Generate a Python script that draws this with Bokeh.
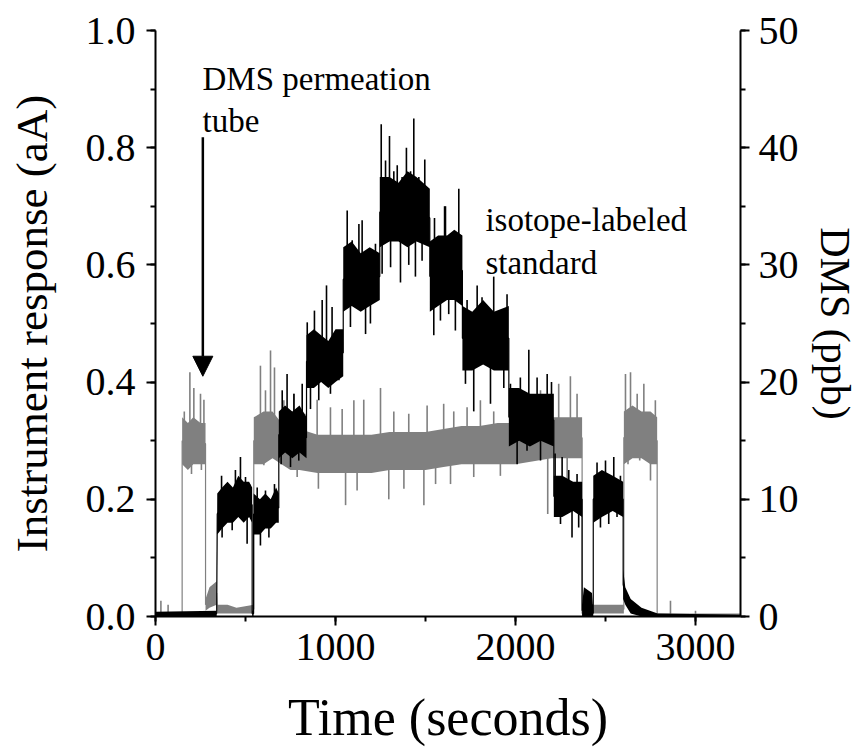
import numpy as np
from bokeh.plotting import figure
from bokeh.models import (Range1d, LinearAxis, SingleIntervalTicker, NumeralTickFormatter,
                          Arrow, NormalHead)
from bokeh.core.properties import value
from bokeh.embed import file_html
from bokeh.resources import INLINE

# ---------------- data ----------------
# black trace: DMS from permeation tube (dense core of the noisy signal)
black_t = [0, 340, 343, 370, 400, 430, 460, 490, 520, 537, 537, 545, 545, 580, 610, 640, 670, 685,
           685, 720, 760, 800, 839, 839, 880, 920, 960, 1000, 1043, 1043, 1090, 1140, 1190, 1246,
           1246, 1300, 1350, 1400, 1450, 1524, 1524, 1570, 1620, 1660, 1705, 1705, 1760, 1820, 1880,
           1963, 1963, 2020, 2080, 2140, 2213, 2213, 2260, 2320, 2370, 2370, 2380, 2425, 2432, 2432,
           2480, 2540, 2598, 2598, 2610, 2640, 2700, 2790, 3250]
black_lo = [0.0, 0.0, 0.14, 0.15, 0.16, 0.16, 0.17, 0.16, 0.17, 0.16, 0.0, 0.0, 0.14, 0.14, 0.15, 0.15, 0.16, 0.16,
            0.27, 0.28, 0.27, 0.28, 0.27, 0.39, 0.39, 0.40, 0.39, 0.40, 0.41, 0.52, 0.53, 0.52, 0.53, 0.54,
            0.63, 0.64, 0.64, 0.63, 0.64, 0.63, 0.52, 0.53, 0.54, 0.54, 0.53, 0.42, 0.42, 0.43, 0.42,
            0.42, 0.29, 0.30, 0.29, 0.30, 0.29, 0.17, 0.17, 0.18, 0.17, 0.0, 0.0, 0.0, 0.0, 0.16,
            0.17, 0.18, 0.17, 0.03, 0.02, 0.005, 0.0, 0.0, 0.0]
black_hi = [0.008, 0.01, 0.21, 0.22, 0.23, 0.22, 0.24, 0.23, 0.23, 0.22, 0.01, 0.01, 0.21, 0.20, 0.21, 0.20, 0.22, 0.21,
            0.35, 0.36, 0.35, 0.36, 0.34, 0.48, 0.49, 0.48, 0.47, 0.49, 0.49, 0.63, 0.64, 0.62, 0.63, 0.62,
            0.75, 0.75, 0.74, 0.76, 0.75, 0.73, 0.64, 0.65, 0.65, 0.66, 0.65, 0.53, 0.52, 0.54, 0.52,
            0.53, 0.39, 0.39, 0.38, 0.38, 0.38, 0.24, 0.24, 0.23, 0.23, 0.02, 0.05, 0.04, 0.01, 0.24,
            0.25, 0.24, 0.23, 0.08, 0.05, 0.03, 0.015, 0.005, 0.003]

# grey trace: isotope-labeled standard (dense core)
gray_t = [0, 148, 148, 180, 210, 250, 278, 278, 300, 340, 343, 400, 450, 546, 546, 600, 650, 700, 750,
          800, 900, 1000, 1100, 1200, 1300, 1400, 1500, 1600, 1700, 1800, 1900, 2000, 2100, 2200,
          2300, 2370, 2370, 2400, 2500, 2602, 2602, 2650, 2700, 2750, 2787, 2787, 3250]
gray_lo = [0.0, 0.0, 0.26, 0.25, 0.26, 0.26, 0.26, 0.01, 0.015, 0.02, 0.005, 0.005, 0.005, 0.005, 0.26, 0.26,
           0.27, 0.26, 0.25, 0.25, 0.245, 0.245, 0.245, 0.245, 0.25, 0.25, 0.25, 0.255, 0.26, 0.26, 0.26,
           0.26, 0.265, 0.27, 0.27, 0.27, 0.0, 0.005, 0.005, 0.005, 0.26, 0.27, 0.27, 0.26, 0.26, 0.0, 0.0]
gray_hi = [0.005, 0.005, 0.34, 0.33, 0.34, 0.33, 0.33, 0.03, 0.05, 0.06, 0.02, 0.02, 0.015, 0.02, 0.34, 0.35,
           0.35, 0.33, 0.32, 0.32, 0.31, 0.31, 0.31, 0.31, 0.315, 0.315, 0.315, 0.32, 0.325, 0.325, 0.33,
           0.33, 0.335, 0.34, 0.34, 0.34, 0.01, 0.02, 0.02, 0.02, 0.35, 0.36, 0.35, 0.35, 0.34, 0.005, 0.005]

# isolated spikes of the noisy traces (time, value)
black_spike_t = [367, 370, 394, 426, 444, 472, 500, 509, 522,
                 565, 583, 611, 630, 661,
                 698, 704, 731, 750, 769, 796, 815,
                 843, 861, 883, 907, 926, 950, 972, 981, 1019,
                 1065, 1083, 1093, 1130, 1148, 1167, 1185, 1194, 1222,
                 1254, 1259, 1278, 1300, 1306, 1324, 1343, 1361, 1370, 1394, 1407, 1417, 1435, 1444,
                 1463, 1481, 1496,
                 1546, 1550, 1583, 1606, 1611, 1629, 1648, 1666, 1685,
                 1722, 1731, 1768, 1787, 1814, 1861, 1879, 1916, 1935, 1953,
                 1972, 2009, 2027, 2064, 2074, 2120, 2139, 2176, 2200,
                 2220, 2250, 2259, 2296, 2314, 2342, 2351,
                 2453, 2472, 2500, 2518, 2546, 2564, 2583]
black_spike_v = [0.24, 0.135, 0.226, 0.147, 0.25, 0.272, 0.238, 0.124, 0.226,
                 0.22, 0.121, 0.215, 0.135, 0.226,
                 0.26, 0.386, 0.414, 0.255, 0.38, 0.266, 0.397,
                 0.502, 0.354, 0.522, 0.369, 0.54, 0.565, 0.38, 0.528, 0.403,
                 0.693, 0.494, 0.642, 0.67, 0.676, 0.482, 0.613, 0.50, 0.636,
                 0.84, 0.585, 0.778, 0.82, 0.596, 0.76, 0.77, 0.57, 0.75, 0.80, 0.60, 0.76, 0.85, 0.58,
                 0.75, 0.607, 0.78,
                 0.48, 0.68, 0.505, 0.70, 0.70, 0.516, 0.653, 0.488, 0.73,
                 0.397, 0.54, 0.35, 0.565, 0.545, 0.363, 0.58, 0.516, 0.39, 0.55,
                 0.397, 0.26, 0.408, 0.283, 0.455, 0.408, 0.266, 0.414, 0.40,
                 0.278, 0.158, 0.272, 0.25, 0.135, 0.243, 0.152,
                 0.263, 0.152, 0.266, 0.158, 0.272, 0.17, 0.24]
gray_spike_t = [30, 70, 160, 170, 191, 200, 213, 250, 255, 269,
                565, 583, 602, 611, 639, 661, 713, 769, 787, 830, 898, 905, 972, 1037, 1056, 1102,
                1120, 1157, 1250, 1296, 1324, 1380, 1407, 1491, 1509, 1556, 1601, 1639, 1657, 1731,
                1768, 1805, 1879, 1916, 2083, 2139, 2179, 2240, 2287, 2305, 2342,
                2611, 2625, 2639, 2676, 2690, 2713, 2750, 2777, 2861, 3000]
gray_spike_v = [0.027, 0.02, 0.35, 0.255, 0.417, 0.243, 0.39, 0.38, 0.25, 0.37,
                0.334, 0.428, 0.258, 0.386, 0.454, 0.425, 0.369, 0.38, 0.238, 0.346, 0.37, 0.218, 0.357,
                0.354, 0.19, 0.369, 0.215, 0.37, 0.39, 0.20, 0.35, 0.218, 0.346, 0.19, 0.36, 0.226,
                0.363, 0.226, 0.35, 0.357, 0.238, 0.369, 0.35, 0.24, 0.35, 0.386, 0.175, 0.397, 0.22,
                0.41, 0.38,
                0.414, 0.26, 0.417, 0.38, 0.266, 0.397, 0.232, 0.369, 0.027, 0.01]

FONT = "Liberation Serif"

# ---------------- figure ----------------
p = figure(frame_width=585, frame_height=586, output_backend="svg", toolbar_location=None,
           x_range=Range1d(0, 3250), y_range=Range1d(0, 1.0),
           min_border_left=155, min_border_top=30, min_border_right=100, min_border_bottom=120,
           x_axis_label="Time (seconds)", y_axis_label="Instrument response (aA)")
p.extra_y_ranges = {"right": Range1d(0, 50)}
p.outline_line_color = None
p.grid.visible = False
p.background_fill_color = "white"
p.border_fill_color = "white"

right_axis = LinearAxis(y_range_name="right", axis_label="DMS (ppb)")
p.add_layout(right_axis, "right")

p.xaxis.ticker = SingleIntervalTicker(interval=1000, num_minor_ticks=2)
p.yaxis[0].ticker = SingleIntervalTicker(interval=0.2, num_minor_ticks=2)
p.yaxis[0].formatter = NumeralTickFormatter(format="0.0")
right_axis.ticker = SingleIntervalTicker(interval=10, num_minor_ticks=2)

for ax in [p.xaxis[0], p.yaxis[0], right_axis]:
    ax.axis_line_width = 2
    ax.axis_line_color = "black"
    ax.major_tick_line_width = 2
    ax.minor_tick_line_width = 2
    ax.major_tick_in = 0
    ax.major_tick_out = 9
    ax.minor_tick_in = 0
    ax.minor_tick_out = 5
    ax.major_label_text_font = FONT
    ax.major_label_text_font_size = "40px"
    ax.major_label_text_color = "black"
    ax.axis_label_text_font = FONT
    ax.axis_label_text_font_style = "normal"
    ax.axis_label_text_color = "black"

p.xaxis.major_label_standoff = 8
p.xaxis.axis_label_text_font_size = "52px"
p.xaxis.axis_label_standoff = 26
p.yaxis[0].major_label_standoff = 11
p.yaxis[0].axis_label_text_font_size = "45px"
p.yaxis[0].axis_label_standoff = 26
right_axis.major_label_standoff = 9
right_axis.axis_label_text_font_size = "42px"
right_axis.axis_label_standoff = 10

# ---------------- traces ----------------
def draw(t, lo, hi, st, sv, color):
    t = np.asarray(t, float); lo = np.asarray(lo, float); hi = np.asarray(hi, float)
    mid = (lo + hi) / 2
    p.varea(x=t, y1=lo, y2=hi, fill_color=color)
    p.line(t, mid, line_color=color, line_width=1.2)
    base = np.interp(st, t, mid)
    p.segment(x0=st, y0=base, x1=st, y1=sv, line_color=color, line_width=1.6)

draw(gray_t, gray_lo, gray_hi, gray_spike_t, gray_spike_v, "#808080")
draw(black_t, black_lo, black_hi, black_spike_t, black_spike_v, "#000000")

# ---------------- annotations ----------------
p.add_layout(Arrow(end=NormalHead(size=20, fill_color="black", line_color="black"),
                   x_start=263, y_start=0.818, x_end=263, y_end=0.41,
                   line_width=2.5, line_color="black"))
p.text(x=[261, 261], y=[0.9176, 0.846], text=["DMS permeation", "tube"],
       text_font=value(FONT), text_font_size="33px", text_baseline="alphabetic",
       text_align="left", text_color="black")
p.text(x=[1833, 1833], y=[0.676, 0.6036], text=["isotope-labeled", "standard"],
       text_font=value(FONT), text_font_size="33px", text_baseline="alphabetic",
       text_align="left", text_color="black")

open("out.html", "w").write(file_html(p, INLINE))
